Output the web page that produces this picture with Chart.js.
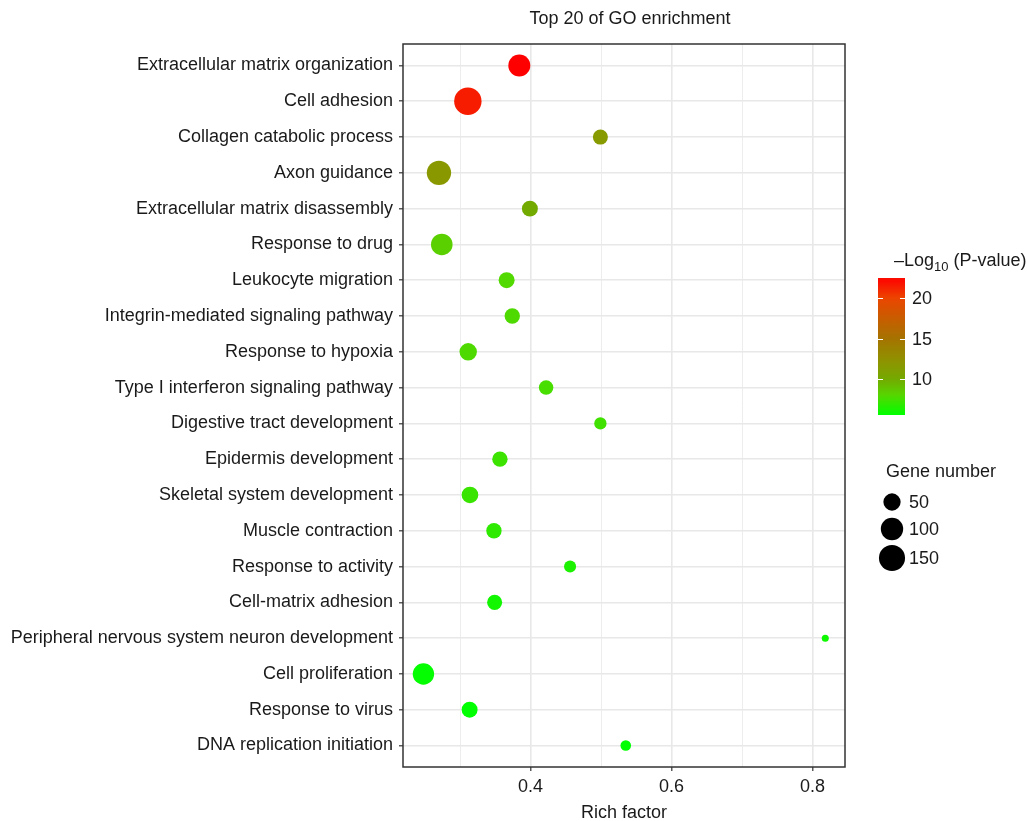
<!DOCTYPE html>
<html>
<head>
<meta charset="utf-8">
<script src="https://cdn.jsdelivr.net/npm/chart.js@4.4.0/dist/chart.umd.min.js"></script>
<style>
    html, body { margin: 0; padding: 0; background: #fff; }
    canvas { display: block; }
</style>
</head>
<body>
<canvas id="graficoGO" width="1027" height="821"></canvas>
<script>
const goTerms = [
    'Extracellular matrix organization',
    'Cell adhesion',
    'Collagen catabolic process',
    'Axon guidance',
    'Extracellular matrix disassembly',
    'Response to drug',
    'Leukocyte migration',
    'Integrin-mediated signaling pathway',
    'Response to hypoxia',
    'Type I interferon signaling pathway',
    'Digestive tract development',
    'Epidermis development',
    'Skeletal system development',
    'Muscle contraction',
    'Response to activity',
    'Cell-matrix adhesion',
    'Peripheral nervous system neuron development',
    'Cell proliferation',
    'Response to virus',
    'DNA replication initiation'
];
const richFactor = [0.384, 0.311, 0.499, 0.270, 0.399, 0.274, 0.366, 0.374, 0.3115, 0.422,
                    0.499, 0.3565, 0.314, 0.348, 0.456, 0.349, 0.818, 0.248, 0.3135, 0.535];
const geneNumber = [96, 170, 34, 126, 40, 91, 40, 36, 51, 31,
                    20, 36, 45, 36, 19, 34, 9, 89, 40, 14];
const negLogP = [22.5, 21.5, 11.6, 11.8, 10, 8.3, 7.9, 7.8, 7.8, 7.6,
                 7.4, 7.3, 7.2, 6.9, 6.4, 6.1, 6.0, 5.7, 5.6, 5.6];
const xTicks = [0.3, 0.4, 0.5, 0.6, 0.7, 0.8];
const colorTicks = [10, 15, 20];
const sizeLegend = [50, 100, 150];

const fontFamily = '"Liberation Sans", Arial, Helvetica, sans-serif';
const textColor = '#1a1a1a';
const pMin = 5.6, pMax = 22.5;
const colorStops = [
    [5.6, [0, 255, 0]],
    [8, [85, 215, 0]],
    [10, [115, 170, 0]],
    [12, [140, 150, 0]],
    [15, [165, 115, 0]],
    [20, [235, 70, 0]],
    [22.5, [255, 0, 0]]
];

function colorFor(v) {
    for (let i = 1; i < colorStops.length; i++) {
        const [v0, c0] = colorStops[i - 1];
        const [v1, c1] = colorStops[i];
        if (v <= v1 || i === colorStops.length - 1) {
            const t = Math.max(0, Math.min(1, (v - v0) / (v1 - v0)));
            const c = c0.map((a, k) => Math.round(a + (c1[k] - a) * t));
            return `rgb(${c[0]},${c[1]},${c[2]})`;
        }
    }
}

function radiusFor(n) {
    return 3.5 + 10.2 * Math.sqrt(Math.max(0, n - 9) / 161);
}

const bubbleData = goTerms.map((t, i) => ({ x: richFactor[i], y: i, r: radiusFor(geneNumber[i]) }));

const extrasPlugin = {
    id: 'extras',
    afterDraw(chart) {
        const ctx = chart.ctx;
        const area = chart.chartArea;
        ctx.save();

        // painel
        ctx.strokeStyle = '#333';
        ctx.lineWidth = 1.5;
        ctx.strokeRect(area.left, area.top, area.right - area.left, area.bottom - area.top);

        // titulo
        ctx.fillStyle = textColor;
        ctx.font = `18px ${fontFamily}`;
        ctx.textAlign = 'center';
        ctx.textBaseline = 'middle';
        ctx.fillText('Top 20 of GO enrichment', (area.left + area.right) / 2 + 6, 19);

        // barra de cores
        const barX = 878, barTop = 278, barW = 27, barH = 137;
        const yOf = v => barTop + barH - (v - pMin) / (pMax - pMin) * barH;
        const grad = ctx.createLinearGradient(0, barTop + barH, 0, barTop);
        for (let v = pMin; v <= pMax + 0.001; v += 0.5) {
            grad.addColorStop((v - pMin) / (pMax - pMin), colorFor(v));
        }
        ctx.fillStyle = grad;
        ctx.fillRect(barX, barTop, barW, barH);
        ctx.strokeStyle = '#fff';
        ctx.lineWidth = 1;
        ctx.textAlign = 'left';
        ctx.font = `18px ${fontFamily}`;
        colorTicks.forEach(v => {
            const y = Math.round(yOf(v)) + 0.5;
            ctx.beginPath();
            ctx.moveTo(barX, y); ctx.lineTo(barX + 5, y);
            ctx.moveTo(barX + barW - 5, y); ctx.lineTo(barX + barW, y);
            ctx.stroke();
            ctx.fillStyle = textColor;
            ctx.fillText(String(v), 912, y + 1);
        });

        // titulo da barra
        let tx = 894;
        ctx.fillStyle = textColor;
        ctx.font = `18px ${fontFamily}`;
        ctx.fillText('\u2013Log', tx, 261);
        tx += ctx.measureText('\u2013Log').width;
        ctx.font = `13px ${fontFamily}`;
        ctx.fillText('10', tx, 267);
        tx += ctx.measureText('10').width;
        ctx.font = `18px ${fontFamily}`;
        ctx.fillText(' (P-value)', tx, 261);

        // legenda de tamanho
        ctx.fillText('Gene number', 886, 472);
        const legY = [502, 529, 558];
        sizeLegend.forEach((n, i) => {
            ctx.fillStyle = '#000';
            ctx.beginPath();
            ctx.arc(892, legY[i], radiusFor(n), 0, Math.PI * 2);
            ctx.fill();
            ctx.fillStyle = textColor;
            ctx.fillText(String(n), 909, legY[i] + 1);
        });

        ctx.restore();
    }
};

new Chart(document.getElementById('graficoGO').getContext('2d'), {
    type: 'bubble',
    data: {
        datasets: [{
            data: bubbleData,
            backgroundColor: ctx => colorFor(negLogP[ctx.dataIndex]),
            borderWidth: 0,
            hoverRadius: 0
        }]
    },
    options: {
        responsive: false,
        animation: false,
        events: [],
        layout: {
            padding: { top: 44, right: 182, bottom: 0, left: 0 }
        },
        plugins: {
            legend: { display: false },
            tooltip: { enabled: false }
        },
        scales: {
            x: {
                type: 'linear',
                min: 0.219,
                max: 0.846,
                afterBuildTicks: scale => {
                    scale.ticks = xTicks.map(v => ({ value: v }));
                },
                afterFit: scale => { scale.height = 54; },
                grid: {
                    color: '#e8e8e8',
                    lineWidth: c => (Math.round(c.tick.value * 10) % 2 === 0 ? 1.6 : 0.8),
                    tickColor: c => (Math.round(c.tick.value * 10) % 2 === 0 ? '#333' : 'rgba(0,0,0,0)'),
                    tickLength: 4,
                    tickWidth: 1.2
                },
                border: { display: false },
                ticks: {
                    color: textColor,
                    font: { size: 18, family: fontFamily },
                    padding: 5,
                    maxRotation: 0,
                    autoSkip: false,
                    callback: v => (Math.round(v * 10) % 2 === 0 ? v.toFixed(1) : '')
                },
                title: {
                    display: true,
                    text: 'Rich factor',
                    color: textColor,
                    font: { size: 18, family: fontFamily },
                    padding: { top: 0, bottom: -3 }
                }
            },
            y: {
                type: 'linear',
                reverse: true,
                min: -0.6,
                max: 19.6,
                afterBuildTicks: scale => {
                    scale.ticks = goTerms.map((t, i) => ({ value: i }));
                },
                afterFit: scale => { scale.width = 403; },
                grid: {
                    color: '#e8e8e8',
                    lineWidth: 1.6,
                    tickColor: '#333',
                    tickLength: 4,
                    tickWidth: 1.2
                },
                border: { display: false },
                ticks: {
                    color: textColor,
                    font: { size: 18, family: fontFamily },
                    padding: 6,
                    autoSkip: false,
                    callback: v => goTerms[v]
                }
            }
        }
    },
    plugins: [extrasPlugin]
});
</script>
</body>
</html>
